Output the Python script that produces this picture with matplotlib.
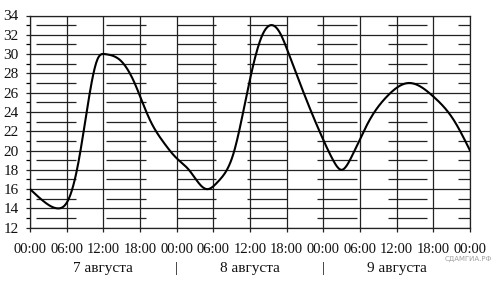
import numpy as np
import matplotlib
matplotlib.use("Agg")
import matplotlib.pyplot as plt

# ---- data ----
hours = [0, 2.3, 4.6, 6.2, 7.9, 9.5, 11.0, 12.3, 14.7, 16.9, 19.6, 21.8, 24.0,
         26.0, 28.9, 30.8, 33.3, 35.5, 37.9, 39.4, 40.9, 42.3, 46.1, 48.0, 49.6,
         51.0, 52.5, 55.6, 58.4, 61.9, 66.0, 69.3, 72]
temps = [16, 14.7, 14.0, 14.8, 18.7, 24.9, 29.4, 30.0, 29.4, 27.3, 23.2, 20.9, 19.2,
         18.0, 16.0, 16.8, 19.7, 25.9, 31.8, 33.0, 32.2, 30.1, 23.9, 21.1, 19.0,
         18.0, 19.2, 23.2, 25.6, 27.0, 25.6, 23.2, 20]
tick_hours = list(range(0, 73, 6))
tick_labels = ["00:00", "06:00", "12:00", "18:00"] * 3 + ["00:00"]
day_labels = ["7 августа", "8 августа", "9 августа"]
day_centers = [12, 36, 60]
day_separators = [24, 48]
y_ticks = list(range(12, 35, 2))


def natural_spline(x, y, n=600):
    """Smooth rendering through the given points (natural cubic spline)."""
    x = np.asarray(x, float)
    y = np.asarray(y, float)
    m = len(x)
    h = np.diff(x)
    A = np.zeros((m, m))
    r = np.zeros(m)
    A[0, 0] = A[-1, -1] = 1
    for i in range(1, m - 1):
        A[i, i - 1] = h[i - 1]
        A[i, i] = 2 * (h[i - 1] + h[i])
        A[i, i + 1] = h[i]
        r[i] = 3 * ((y[i + 1] - y[i]) / h[i] - (y[i] - y[i - 1]) / h[i - 1])
    c = np.linalg.solve(A, r)
    b = (y[1:] - y[:-1]) / h - h * (2 * c[:-1] + c[1:]) / 3
    d = (c[1:] - c[:-1]) / (3 * h)
    xs = np.linspace(x[0], x[-1], n)
    idx = np.clip(np.searchsorted(x, xs) - 1, 0, m - 2)
    dx = xs - x[idx]
    ys = y[idx] + b[idx] * dx + c[idx] * dx ** 2 + d[idx] * dx ** 3
    return xs, ys


plt.rcParams['font.family'] = ['Liberation Serif', 'DejaVu Serif']
fig = plt.figure(figsize=(4.94, 2.86), dpi=100)
ax = fig.add_axes([30 / 494, 1 - 227.7 / 286, 440 / 494, (227.7 - 15.5) / 286])

gcol = '#222222'
# full horizontal grid at even values
for v in y_ticks:
    ax.axhline(v, color=gcol, lw=0.9, zorder=1)
# short segments at odd values
seg_starts = [1.0 + 11.5 * k for k in range(7)]
for v in range(13, 34, 2):
    for s in seg_starts:
        ax.plot([s, min(s + 6.5, 72)], [v, v], color=gcol, lw=0.9, zorder=1,
                solid_capstyle='butt')
# vertical grid
for h in tick_hours:
    ax.axvline(h, color=gcol, lw=0.9, zorder=1)

sx, sy = natural_spline(hours, temps)
ax.plot(sx, sy, color='black', lw=1.5, zorder=3, solid_joinstyle='round')

ax.set_xlim(0, 72)
ax.set_ylim(12, 34)
ax.set_yticks(y_ticks)
ax.set_yticks(range(13, 34, 2), minor=True)
ax.set_xticks(tick_hours)
ax.set_xticklabels(tick_labels)
ax.tick_params(axis='both', colors=gcol, labelcolor='#111111')
ax.tick_params(axis='y', which='both', length=3, width=0.9, pad=5, labelsize=11)
ax.tick_params(axis='x', length=3, width=0.9, pad=8, labelsize=10.5)
for sp in ax.spines.values():
    sp.set_color(gcol)
    sp.set_linewidth(0.9)

for lbl, c in zip(day_labels, day_centers):
    ax.text(c, -0.19, lbl, transform=ax.get_xaxis_transform(), ha='center',
            va='center', fontsize=11, color='#111111')
for s in day_separators:
    ax.text(s, -0.19, "|", transform=ax.get_xaxis_transform(), ha='center',
            va='center', fontsize=11, color='#111111')

fig.text(492 / 494, 1 - 259 / 286, "СДАМГИА.РФ", ha='right', va='center',
         fontsize=5, color='#a0a0a0', family=['DejaVu Sans'])

fig.savefig("out.png", dpi=100)
